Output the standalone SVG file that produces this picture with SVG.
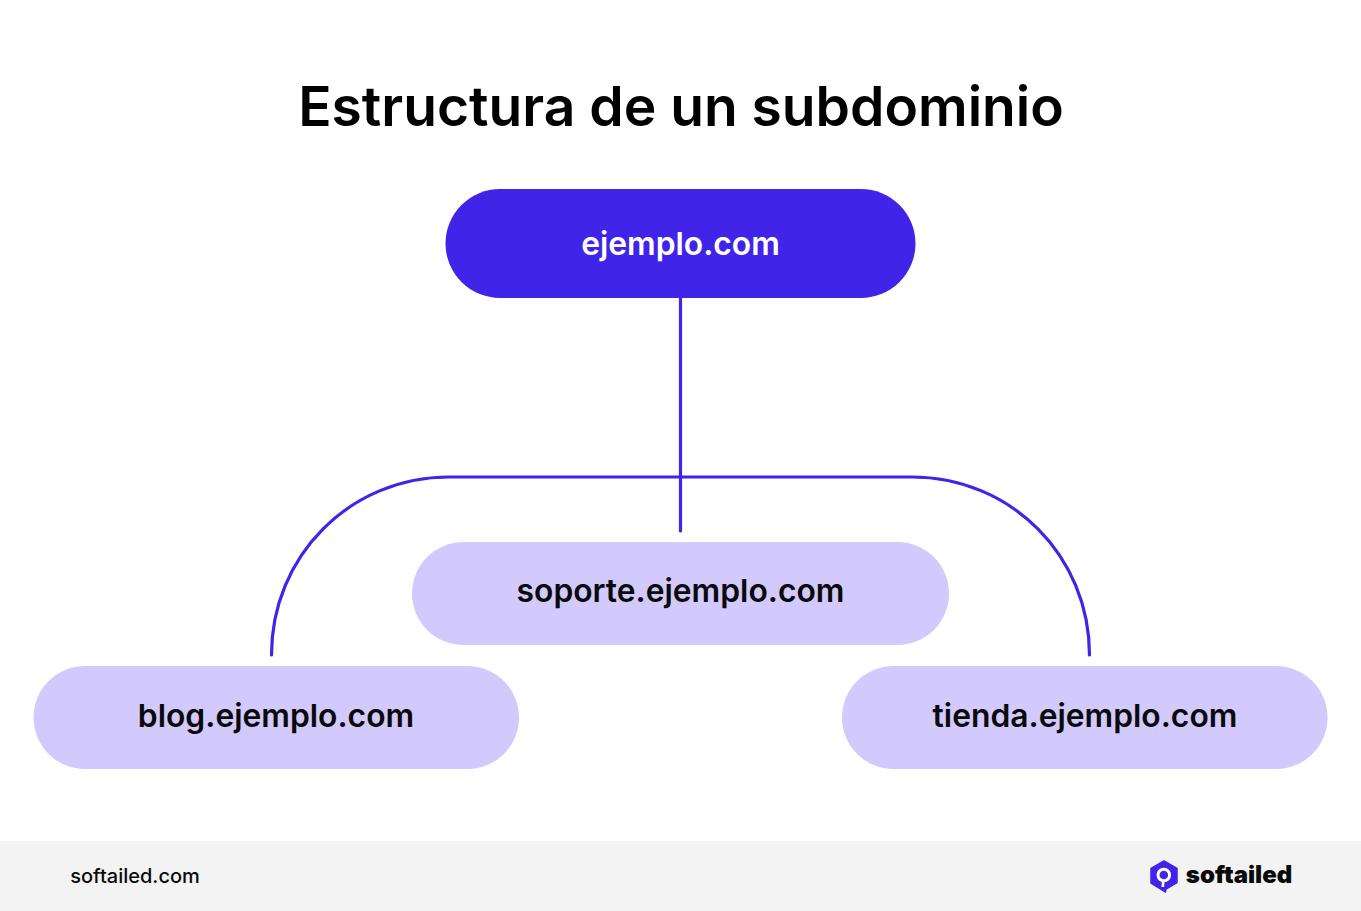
<svg xmlns="http://www.w3.org/2000/svg" width="1361" height="911" viewBox="0 0 1361 911">
<style>
text{font-family:Inter,"Liberation Sans",sans-serif;text-anchor:middle}
.n{font-size:31.8px;font-weight:600;fill:#0a0a0a}
.c{fill:none;stroke:#4024e8;stroke-width:3.2;stroke-linecap:round}
.l{fill:#d2c9fd}
</style>
<rect width="1361" height="911" fill="#fff"/>
<text id="title" x="681" y="126" font-size="55.150" font-weight="600" fill="#000">Estructura de un subdominio</text>
<g id="connectors">
<path class="c" d="M680.500 298V531"/>
<path class="c" d="M271.500 655C271.500 556 350 477 449 477H912C1011 477 1089.500 556 1089.500 655"/>
</g>
<g id="root"><rect x="445.500" y="189" width="470" height="109" rx="54.500" fill="#4024e8"/><text class="n" x="680.500" y="255" style="fill:#fff">ejemplo.com</text></g>
<g id="soporte"><rect class="l" x="412" y="542" width="537" height="103" rx="51.500"/><text class="n" x="680.500" y="602">soporte.ejemplo.com</text></g>
<g id="blog"><rect class="l" x="33.500" y="666" width="485.500" height="103" rx="51.500"/><text class="n" x="276" y="727">blog.ejemplo.com</text></g>
<g id="tienda"><rect class="l" x="842" y="666" width="485.500" height="103" rx="51.500"/><text class="n" x="1085" y="727">tienda.ejemplo.com</text></g>
<g id="footer"><rect y="841" width="1361" height="70" fill="#f3f3f3"/>
<text x="135" y="883" font-size="20" font-weight="500" fill="#0a0a0a">softailed.com</text>
<path d="M1164 861L1177 868.500V882.500L1166 889L1165.500 892L1160 888.500L1151 883V868.500Z" fill="#4024e8" stroke="#4024e8" stroke-width="1.500" stroke-linejoin="round"/><circle cx="1163.800" cy="875" r="5.800" fill="none" stroke="#fff" stroke-width="3"/><path d="M1163.200 881L1162.800 887" stroke="#fff" stroke-width="2.600" fill="none"/>
<text x="1239" y="883" font-size="24" font-weight="900" fill="#0a0a0a">softailed</text></g>
</svg>
